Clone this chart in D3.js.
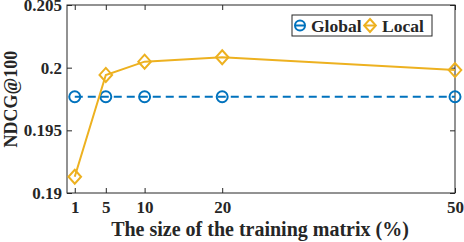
<!DOCTYPE html>
<html>
<head>
<meta charset="utf-8">
<script src="https://cdn.jsdelivr.net/npm/d3@7"></script>
<style>
  body { margin: 0; background: #fff; }
  text { font-family: "Liberation Serif", "Times New Roman", serif; font-weight: bold; fill: #262626; }
</style>
</head>
<body>
<svg id="chart" width="464" height="242"></svg>
<script>
// data
let sizes = [1, 5, 10, 20, 50];
let globalVals = [0.19768, 0.19768, 0.19768, 0.19768, 0.19768];
let localVals = [0.1913, 0.19942, 0.20048, 0.20083, 0.19981];
let xTicks = [1, 5, 10, 20, 50];
let yTicks = [0.19, 0.195, 0.2, 0.205];
let yTickLabels = ["0.19", "0.195", "0.2", "0.205"];

let plot = { left: 67, right: 455, top: 5, bottom: 193 };
let svg = d3.select("#chart");

let xScale = d3.scaleLinear().domain([0, 50]).range([plot.left, plot.right]);
let yScale = d3.scaleLinear().domain([0.19, 0.205]).range([plot.bottom, plot.top]);

// axes, ticks point inward like matlab
let axisColor = "#262626";
function styleAxis(g) {
    g.select(".domain").remove();
    g.selectAll(".tick line").attr("stroke", axisColor).attr("stroke-width", 1);
    g.selectAll("text").style("font-size", "17px").attr("fill", axisColor);
}

svg.append("g")
    .attr("transform", "translate(0," + plot.bottom + ")")
    .call(d3.axisBottom(xScale).tickValues(xTicks).tickSize(-5).tickPadding(8))
    .call(styleAxis);

svg.append("g")
    .attr("transform", "translate(0," + plot.top + ")")
    .call(d3.axisTop(xScale).tickValues(xTicks).tickSize(-5).tickFormat(""))
    .call(styleAxis);

svg.append("g")
    .attr("transform", "translate(" + plot.left + ",0)")
    .call(d3.axisLeft(yScale).tickValues(yTicks).tickSize(-5).tickPadding(5)
        .tickFormat((d, i) => yTickLabels[i]))
    .call(styleAxis);

svg.append("g")
    .attr("transform", "translate(" + plot.right + ",0)")
    .call(d3.axisRight(yScale).tickValues(yTicks).tickSize(-5).tickFormat(""))
    .call(styleAxis);

// box around the plot
svg.append("rect")
    .attr("x", plot.left).attr("y", plot.top)
    .attr("width", plot.right - plot.left).attr("height", plot.bottom - plot.top)
    .attr("fill", "none").attr("stroke", axisColor).attr("stroke-width", 1);

let blue = "#0072BD";
let orange = "#EDB120";

let line = d3.line()
    .x((d) => xScale(d.x))
    .y((d) => yScale(d.y));

let globalPts = sizes.map((s, i) => ({ x: s, y: globalVals[i] }));
let localPts = sizes.map((s, i) => ({ x: s, y: localVals[i] }));

// global: dashed blue with circles
svg.append("path")
    .attr("d", line(globalPts))
    .attr("fill", "none").attr("stroke", blue)
    .attr("stroke-width", 2).attr("stroke-dasharray", "8,5");

svg.selectAll(".gmark")
    .data(globalPts).enter()
    .append("circle")
    .attr("class", "gmark")
    .attr("cx", (d) => xScale(d.x))
    .attr("cy", (d) => yScale(d.y))
    .attr("r", 5.5)
    .attr("fill", "none").attr("stroke", blue).attr("stroke-width", 2);

// local: solid orange with diamonds
svg.append("path")
    .attr("d", line(localPts))
    .attr("fill", "none").attr("stroke", orange).attr("stroke-width", 2);

function diamond(cx, cy, r) {
    return "M" + cx + "," + (cy - r) + "L" + (cx + r * 0.9) + "," + cy +
        "L" + cx + "," + (cy + r) + "L" + (cx - r * 0.9) + "," + cy + "Z";
}

svg.selectAll(".lmark")
    .data(localPts).enter()
    .append("path")
    .attr("class", "lmark")
    .attr("d", (d) => diamond(xScale(d.x), yScale(d.y), 7))
    .attr("fill", "none").attr("stroke", orange).attr("stroke-width", 2);

// legend
let leg = svg.append("g");
leg.append("rect")
    .attr("x", 292).attr("y", 15).attr("width", 140).attr("height", 21)
    .attr("fill", "#fff").attr("stroke", axisColor).attr("stroke-width", 1);
leg.append("circle")
    .attr("cx", 300).attr("cy", 25.5).attr("r", 5)
    .attr("fill", "none").attr("stroke", blue).attr("stroke-width", 2);
leg.append("line")
    .attr("x1", 296).attr("x2", 304).attr("y1", 25.5).attr("y2", 25.5)
    .attr("stroke", blue).attr("stroke-width", 2);
leg.append("text").attr("x", 311).attr("y", 32).style("font-size", "17.5px").text("Global");
leg.append("path")
    .attr("d", diamond(370, 25.5, 6.5))
    .attr("fill", "none").attr("stroke", orange).attr("stroke-width", 2);
leg.append("line")
    .attr("x1", 365).attr("x2", 375).attr("y1", 25.5).attr("y2", 25.5)
    .attr("stroke", orange).attr("stroke-width", 2);
leg.append("text").attr("x", 382).attr("y", 32).style("font-size", "17.5px").text("Local");

// axis titles
svg.append("text")
    .attr("x", 260).attr("y", 236)
    .attr("text-anchor", "middle")
    .style("font-size", "20px")
    .text("The size of the training matrix (%)");

svg.append("text")
    .attr("transform", "translate(17," + (plot.top + plot.bottom) / 2 + ") rotate(-90)")
    .attr("text-anchor", "middle")
    .style("font-size", "18px")
    .text("NDCG@100");
</script>
</body>
</html>
